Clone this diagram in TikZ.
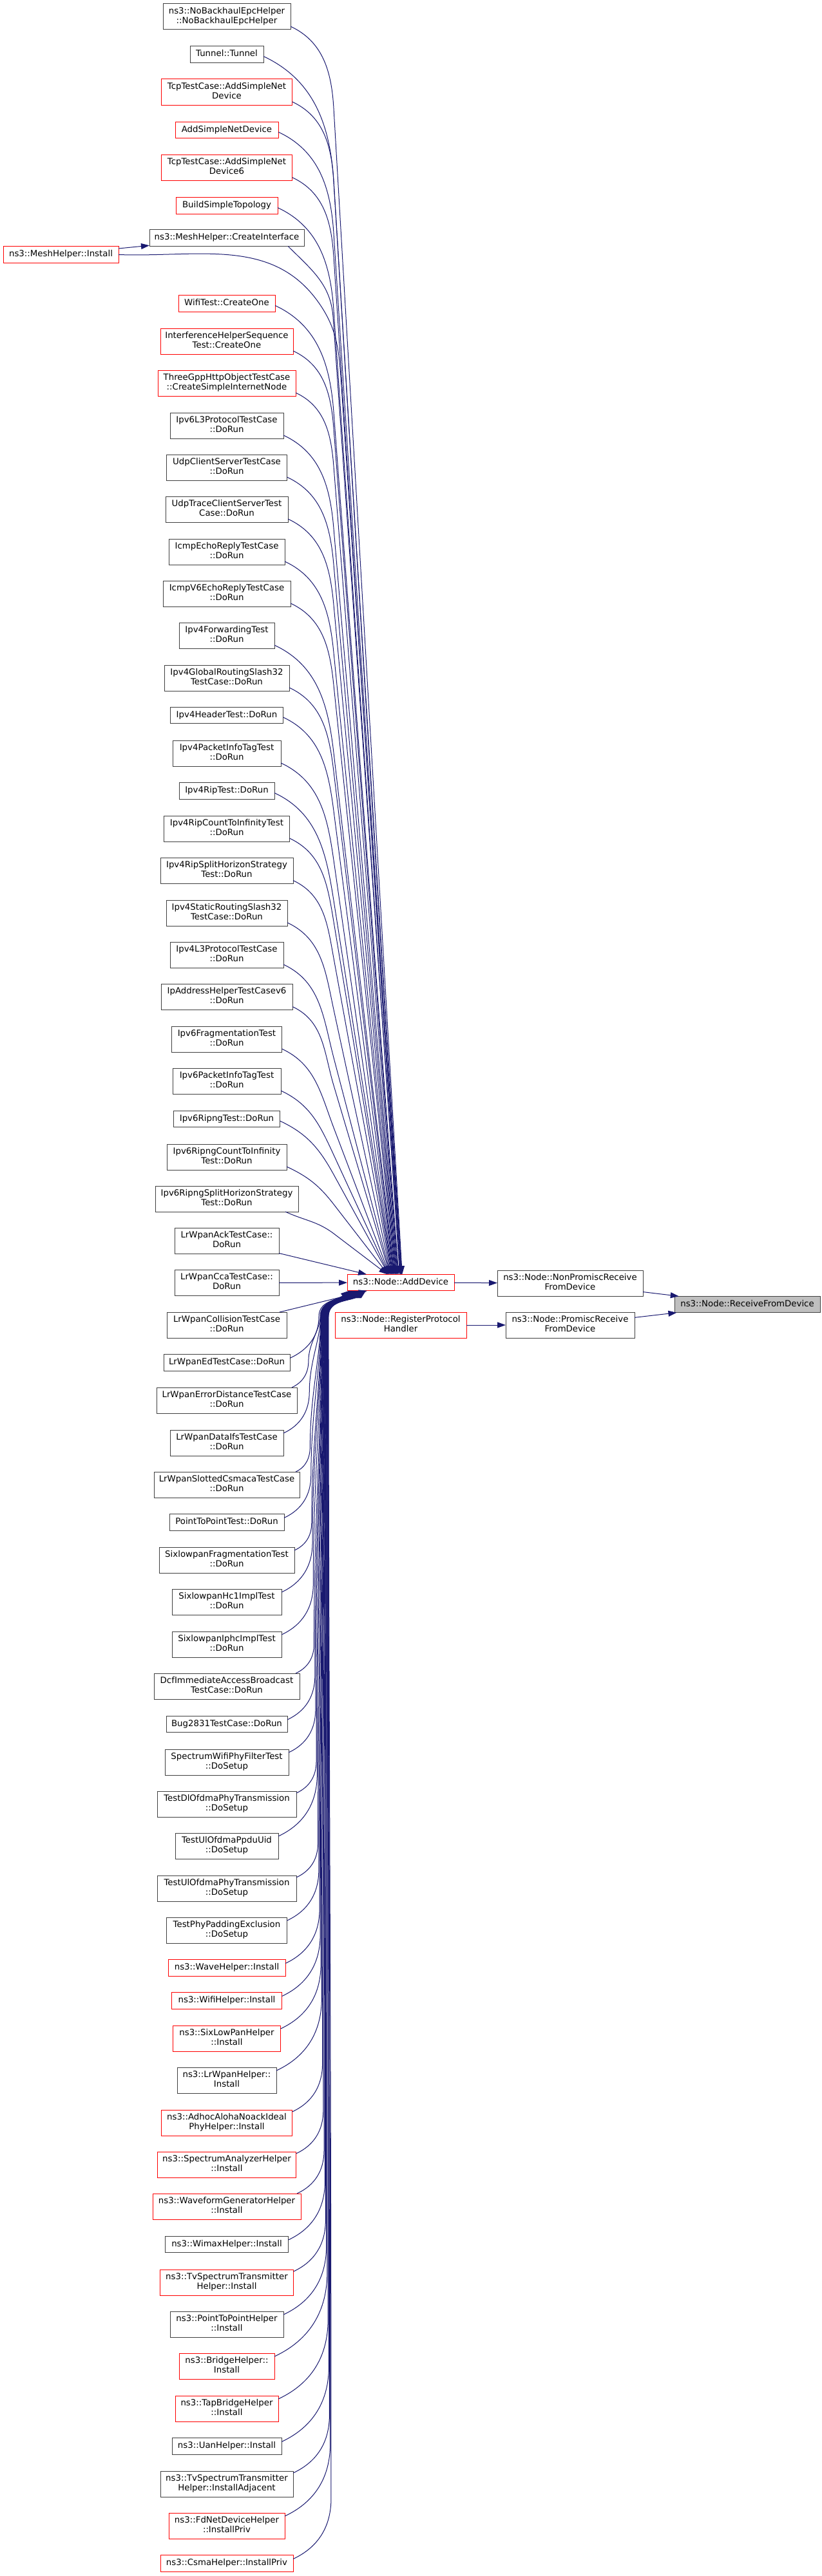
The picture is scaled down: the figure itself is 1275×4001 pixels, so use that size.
\documentclass[tikz,border=0pt]{standalone}
\usepackage{fontspec}
\setmainfont{DejaVu Sans}
\usetikzlibrary{arrows.meta,calc}
\definecolor{mblue}{HTML}{191970}
\definecolor{grey25}{HTML}{404040}
\definecolor{grey75}{HTML}{BFBFBF}
\newcommand\nodefont{\fontsize{13.33}{15}\selectfont}
\newcommand\two[2]{#1\\\strut #2}
\newdimen\Sx \newdimen\Sy
\tikzset{
  fnbox/.style={draw=grey25, fill=white, line width=1pt, inner sep=0pt, outer sep=0pt,
    align=center, font=\nodefont, execute at begin node=\strut},
  redbox/.style={fnbox, draw=red},
  rootbox/.style={fnbox, fill=grey75},
  sl/.style={minimum height=25.5pt},
  dl/.style={minimum height=40pt},
  callarrow/.style={draw=mblue, line width=1pt, -{Triangle[length=13pt,width=9pt]}},
}
\newcommand\fnode[6]{\node[#1,#2,minimum width=#3pt] (#4) at (352,-#5) {#6};}
\newcommand\topcall[2]{%
  \coordinate (#1s) at #2;%
  \pgfextractx{\Sx}{\pgfpointanchor{#1s}{center}}%
  \pgfextracty{\Sy}{\pgfpointanchor{#1s}{center}}%
  \pgfmathsetmacro\mPx{\Sx}%
  \pgfmathsetmacro\mPy{-\Sy}%
  \pgfmathsetmacro\mD{1979-\mPy}%
  \pgfmathsetmacro\mEo{61+\mD*0.0125}%
  \pgfmathsetmacro\mVdx{518-\mPx}%
  \pgfmathsetmacro\mVdy{min(1.6*\mVdx+20,0.35*\mD)}%
  \pgfmathsetmacro\mIn{90+atan((\mEo+21)/(\mD-\mVdy))}%
  \coordinate (#1v) at ($(#1s)+(\mVdx,-\mVdy)$);%
  \draw[callarrow] (#1s) to[out=-25,in=\mIn] (#1v) -- ($(add.north west)+(\mEo,0)$);%
}
\newcommand\botcall[2]{%
  \coordinate (#1s) at #2;%
  \pgfextractx{\Sx}{\pgfpointanchor{#1s}{center}}%
  \pgfextracty{\Sy}{\pgfpointanchor{#1s}{center}}%
  \pgfmathsetmacro\mPx{\Sx}%
  \pgfmathsetmacro\mPy{-\Sy}%
  \pgfmathsetmacro\mD{\mPy-2005}%
  \pgfmathsetmacro\mVdx{476+0.01929*\mD-\mPx}%
  \pgfmathsetmacro\mVdy{max(1.6*\mVdx,40)}%
  \pgfmathsetmacro\mDt{\mPy-\mVdy-2045}%
  \pgfmathsetmacro\mHa{0.4*\mDt}%
  \pgfmathsetmacro\mHb{0.3*\mDt}%
  \pgfmathsetmacro\mWo{-43+0.0071*\mD}%
  \pgfmathsetmacro\mEo{2+0.0137*\mD}%
  \coordinate (#1v) at ($(#1s)+(\mVdx,\mVdy)$);%
  \coordinate (#1w) at ($(add.south west)+(\mWo,-40)$);%
  \draw[callarrow] (#1s) to[out=25,in=-90] (#1v) .. controls +(0,\mHa) and +(0,-\mHb) .. (#1w) to[out=90,in=-142] ($(add.south west)+(\mEo,0)$);%
}
\begin{document}
\begin{tikzpicture}[x=1pt,y=1pt]
\fill[white] (0,0) rectangle (1275,-4001);
\useasboundingbox (0,0) rectangle (1275,-4001);
% left column (callers)
\fnode{fnbox}{dl}{198}{n1}{26}{\two{ns3::NoBackhaulEpcHelper}{::NoBackhaulEpcHelper}}
\fnode{fnbox}{sl}{114}{n2}{84.5}{Tunnel::Tunnel}
\fnode{redbox}{dl}{203}{n3}{143}{\two{TcpTestCase::AddSimpleNet}{Device}}
\fnode{redbox}{sl}{160}{n4}{202}{AddSimpleNetDevice}
\fnode{redbox}{dl}{203}{n5}{260.5}{\two{TcpTestCase::AddSimpleNet}{Device6}}
\fnode{redbox}{sl}{158}{n6}{319.5}{BuildSimpleTopology}
\fnode{fnbox}{sl}{240}{n7}{369.5}{ns3::MeshHelper::CreateInterface}
\node[redbox,sl,minimum width=179pt] (n8) at (94.5,-395.5) {ns3::MeshHelper::Install};
\fnode{redbox}{sl}{150}{n9}{471.5}{WifiTest::CreateOne}
\fnode{redbox}{dl}{206}{n10}{530}{\two{InterferenceHelperSequence}{Test::CreateOne}}
\fnode{redbox}{dl}{214}{n11}{595}{\two{ThreeGppHttpObjectTestCase}{::CreateSimpleInternetNode}}
\fnode{fnbox}{dl}{176}{n12}{661}{\two{Ipv6L3ProtocolTestCase}{::DoRun}}
\fnode{fnbox}{dl}{187}{n13}{726}{\two{UdpClientServerTestCase}{::DoRun}}
\fnode{fnbox}{dl}{190}{n14}{791}{\two{UdpTraceClientServerTest}{Case::DoRun}}
\fnode{fnbox}{dl}{180}{n15}{857}{\two{IcmpEchoReplyTestCase}{::DoRun}}
\fnode{fnbox}{dl}{198}{n16}{922}{\two{IcmpV6EchoReplyTestCase}{::DoRun}}
\fnode{fnbox}{dl}{148}{n17}{987}{\two{Ipv4ForwardingTest}{::DoRun}}
\fnode{fnbox}{dl}{194}{n18}{1053}{\two{Ipv4GlobalRoutingSlash32}{TestCase::DoRun}}
\fnode{fnbox}{sl}{175}{n19}{1111}{Ipv4HeaderTest::DoRun}
\fnode{fnbox}{dl}{168}{n20}{1170}{\two{Ipv4PacketInfoTagTest}{::DoRun}}
\fnode{fnbox}{sl}{148}{n21}{1228.5}{Ipv4RipTest::DoRun}
\fnode{fnbox}{dl}{195}{n22}{1287}{\two{Ipv4RipCountToInfinityTest}{::DoRun}}
\fnode{fnbox}{dl}{206}{n23}{1352.5}{\two{Ipv4RipSplitHorizonStrategy}{Test::DoRun}}
\fnode{fnbox}{dl}{188}{n24}{1418}{\two{Ipv4StaticRoutingSlash32}{TestCase::DoRun}}
\fnode{fnbox}{dl}{176}{n25}{1483}{\two{Ipv4L3ProtocolTestCase}{::DoRun}}
\fnode{fnbox}{dl}{204}{n26}{1548.5}{\two{IpAddressHelperTestCasev6}{::DoRun}}
\fnode{fnbox}{dl}{171}{n27}{1614}{\two{Ipv6FragmentationTest}{::DoRun}}
\fnode{fnbox}{dl}{168}{n28}{1679}{\two{Ipv6PacketInfoTagTest}{::DoRun}}
\fnode{fnbox}{sl}{165}{n29}{1738}{Ipv6RipngTest::DoRun}
\fnode{fnbox}{dl}{186}{n30}{1797}{\two{Ipv6RipngCountToInfinity}{Test::DoRun}}
\fnode{fnbox}{dl}{222}{n31}{1862}{\two{Ipv6RipngSplitHorizonStrategy}{Test::DoRun}}
\fnode{fnbox}{dl}{162}{n32}{1927}{\two{LrWpanAckTestCase::}{DoRun}}
\fnode{fnbox}{dl}{162}{n33}{1992.5}{\two{LrWpanCcaTestCase::}{DoRun}}
\fnode{fnbox}{dl}{186}{n34}{2058}{\two{LrWpanCollisionTestCase}{::DoRun}}
\fnode{fnbox}{sl}{196}{n35}{2116.5}{LrWpanEdTestCase::DoRun}
\fnode{fnbox}{dl}{218}{n36}{2175}{\two{LrWpanErrorDistanceTestCase}{::DoRun}}
\fnode{fnbox}{dl}{176}{n37}{2241}{\two{LrWpanDataIfsTestCase}{::DoRun}}
\fnode{fnbox}{dl}{226}{n38}{2306}{\two{LrWpanSlottedCsmacaTestCase}{::DoRun}}
\fnode{fnbox}{sl}{178}{n39}{2364.5}{PointToPointTest::DoRun}
\fnode{fnbox}{dl}{210}{n40}{2423}{\two{SixlowpanFragmentationTest}{::DoRun}}
\fnode{fnbox}{dl}{170}{n41}{2488}{\two{SixlowpanHc1ImplTest}{::DoRun}}
\fnode{fnbox}{dl}{170}{n42}{2554}{\two{SixlowpanIphcImplTest}{::DoRun}}
\fnode{fnbox}{dl}{226}{n43}{2619}{\two{DcfImmediateAccessBroadcast}{TestCase::DoRun}}
\fnode{fnbox}{sl}{188}{n44}{2678}{Bug2831TestCase::DoRun}
\fnode{fnbox}{dl}{192}{n45}{2737}{\two{SpectrumWifiPhyFilterTest}{::DoSetup}}
\fnode{fnbox}{dl}{216}{n46}{2802}{\two{TestDlOfdmaPhyTransmission}{::DoSetup}}
\fnode{fnbox}{dl}{160}{n47}{2867}{\two{TestUlOfdmaPpduUid}{::DoSetup}}
\fnode{fnbox}{dl}{216}{n48}{2933}{\two{TestUlOfdmaPhyTransmission}{::DoSetup}}
\fnode{fnbox}{dl}{187}{n49}{2998}{\two{TestPhyPaddingExclusion}{::DoSetup}}
\fnode{redbox}{sl}{182}{n50}{3056.5}{ns3::WaveHelper::Install}
\fnode{redbox}{sl}{171}{n51}{3107.5}{ns3::WifiHelper::Install}
\fnode{redbox}{dl}{167}{n52}{3166}{\two{ns3::SixLowPanHelper}{::Install}}
\fnode{fnbox}{dl}{154}{n53}{3231}{\two{ns3::LrWpanHelper::}{Install}}
\fnode{redbox}{dl}{203}{n54}{3297}{\two{ns3::AdhocAlohaNoackIdeal}{PhyHelper::Install}}
\fnode{redbox}{dl}{215}{n55}{3362}{\two{ns3::SpectrumAnalyzerHelper}{::Install}}
\fnode{redbox}{dl}{230}{n56}{3427}{\two{ns3::WaveformGeneratorHelper}{::Install}}
\fnode{fnbox}{sl}{191}{n57}{3486}{ns3::WimaxHelper::Install}
\fnode{redbox}{dl}{207}{n58}{3545}{\two{ns3::TvSpectrumTransmitter}{Helper::Install}}
\fnode{fnbox}{dl}{176}{n59}{3610}{\two{ns3::PointToPointHelper}{::Install}}
\fnode{redbox}{dl}{148}{n60}{3675}{\two{ns3::BridgeHelper::}{Install}}
\fnode{redbox}{dl}{160}{n61}{3741}{\two{ns3::TapBridgeHelper}{::Install}}
\fnode{fnbox}{sl}{170}{n62}{3799.5}{ns3::UanHelper::Install}
\fnode{fnbox}{dl}{206}{n63}{3858}{\two{ns3::TvSpectrumTransmitter}{Helper::InstallAdjacent}}
\fnode{redbox}{dl}{180}{n64}{3923}{\two{ns3::FdNetDeviceHelper}{::InstallPriv}}
\fnode{redbox}{sl}{206}{n65}{3981.5}{ns3::CsmaHelper::InstallPriv}
% right part
\node[redbox,sl,minimum width=166pt] (add) at (622,-1992) {ns3::Node::AddDevice};
\node[fnbox,dl,minimum width=226pt] (nonp) at (885,-1993) {\two{ns3::Node::NonPromiscReceive}{FromDevice}};
\node[rootbox,sl,minimum width=226pt] (recv) at (1160,-2026) {ns3::Node::ReceiveFromDevice};
\node[redbox,dl,minimum width=204pt] (reg) at (622,-2058) {\two{ns3::Node::RegisterProtocol}{Handler}};
\node[fnbox,dl,minimum width=200pt] (prom) at (885,-2058) {\two{ns3::Node::PromiscReceive}{FromDevice}};
% edges on the right
\draw[callarrow] (add) -- (nonp);
\draw[callarrow] (nonp) -- (recv);
\draw[callarrow] (prom) -- (recv);
\draw[callarrow] (reg) -- (prom);
% mesh helper
\draw[callarrow] ($(n8.east)+(0,9.5)$) -- ($(n7.south west)+(0,1)$);
\coordinate (m1) at ($(n8.east)+(311,-75)$);
\coordinate (m2) at ($(m1)+(35,-130)$);
\draw[callarrow] (n8.east) to[out=-2,in=125] (m1) to[out=-55,in=94] (m2) -- ($(add.north west)+(84,0)$);
\coordinate (c7) at ($(n7.south east)+(-25,0)$);
\coordinate (c7v) at ($(c7)+(70,-110)$);
\draw[callarrow] (c7) to[out=-45,in=94] (c7v) -- ($(add.north west)+(82,0)$);
% callers above AddDevice
\topcall{n1}{($(n1.south east)+(0,5)$)}
\topcall{n2}{($(n2.east)+(0,-3)$)}
\topcall{n3}{($(n3.south east)+(0,5)$)}
\topcall{n4}{($(n4.east)+(0,-3)$)}
\topcall{n5}{($(n5.south east)+(0,5)$)}
\topcall{n6}{($(n6.east)+(0,-3)$)}
\topcall{n9}{($(n9.east)+(0,-3)$)}
\topcall{n10}{($(n10.south east)+(0,5)$)}
\topcall{n11}{($(n11.south east)+(0,5)$)}
\topcall{n12}{($(n12.south east)+(0,5)$)}
\topcall{n13}{($(n13.south east)+(0,5)$)}
\topcall{n14}{($(n14.south east)+(0,5)$)}
\topcall{n15}{($(n15.south east)+(0,5)$)}
\topcall{n16}{($(n16.south east)+(0,5)$)}
\topcall{n17}{($(n17.south east)+(0,5)$)}
\topcall{n18}{($(n18.south east)+(0,5)$)}
\topcall{n19}{($(n19.east)+(0,-3)$)}
\topcall{n20}{($(n20.south east)+(0,5)$)}
\topcall{n21}{($(n21.east)+(0,-3)$)}
\topcall{n22}{($(n22.south east)+(0,5)$)}
\topcall{n23}{($(n23.south east)+(0,5)$)}
\topcall{n24}{($(n24.south east)+(0,5)$)}
\topcall{n25}{($(n25.south east)+(0,5)$)}
\topcall{n26}{($(n26.south east)+(0,5)$)}
\topcall{n27}{($(n27.south east)+(0,5)$)}
\topcall{n28}{($(n28.south east)+(0,5)$)}
\topcall{n29}{($(n29.east)+(0,-3)$)}
\topcall{n30}{($(n30.south east)+(0,5)$)}
\topcall{n31}{($(n31.south east)+(-20,0)$)}
% direct neighbours
\draw[callarrow] (n32) -- (add);
\draw[callarrow] (n33) -- (add);
\draw[callarrow] (n34) -- (add);
\coordinate (n35s) at ($(n35.east)+(0,7)$);
\coordinate (n35w) at ($(add.south west)+(-44,-40)$);
\draw[callarrow] (n35s) to[out=25,in=-90] (n35w) to[out=90,in=-142] ($(add.south west)+(3,0)$);
% callers below AddDevice
\botcall{n36}{($(n36.north east)+(-8,0)$)}
\botcall{n37}{($(n37.north east)+(0,-5)$)}
\botcall{n38}{($(n38.north east)+(-6,0)$)}
\botcall{n39}{($(n39.east)+(0,7)$)}
\botcall{n40}{($(n40.north east)+(0,-5)$)}
\botcall{n41}{($(n41.north east)+(0,-5)$)}
\botcall{n42}{($(n42.north east)+(0,-5)$)}
\botcall{n43}{($(n43.north east)+(-6,0)$)}
\botcall{n44}{($(n44.east)+(0,7)$)}
\botcall{n45}{($(n45.north east)+(0,-5)$)}
\botcall{n46}{($(n46.north east)+(0,-3)$)}
\botcall{n47}{($(n47.north east)+(0,-5)$)}
\botcall{n48}{($(n48.north east)+(0,-3)$)}
\botcall{n49}{($(n49.north east)+(0,-5)$)}
\botcall{n50}{($(n50.east)+(0,7)$)}
\botcall{n51}{($(n51.east)+(0,7)$)}
\botcall{n52}{($(n52.north east)+(0,-5)$)}
\botcall{n53}{($(n53.north east)+(0,-5)$)}
\botcall{n54}{($(n54.north east)+(0,-3)$)}
\botcall{n55}{($(n55.north east)+(0,-3)$)}
\botcall{n56}{($(n56.north east)+(-6,0)$)}
\botcall{n57}{($(n57.east)+(0,7)$)}
\botcall{n58}{($(n58.north east)+(0,-3)$)}
\botcall{n59}{($(n59.north east)+(0,-5)$)}
\botcall{n60}{($(n60.north east)+(0,-5)$)}
\botcall{n61}{($(n61.north east)+(0,-5)$)}
\botcall{n62}{($(n62.east)+(0,7)$)}
\botcall{n63}{($(n63.north east)+(0,-3)$)}
\botcall{n64}{($(n64.north east)+(0,-5)$)}
\botcall{n65}{($(n65.east)+(0,7)$)}
\end{tikzpicture}
\end{document}
